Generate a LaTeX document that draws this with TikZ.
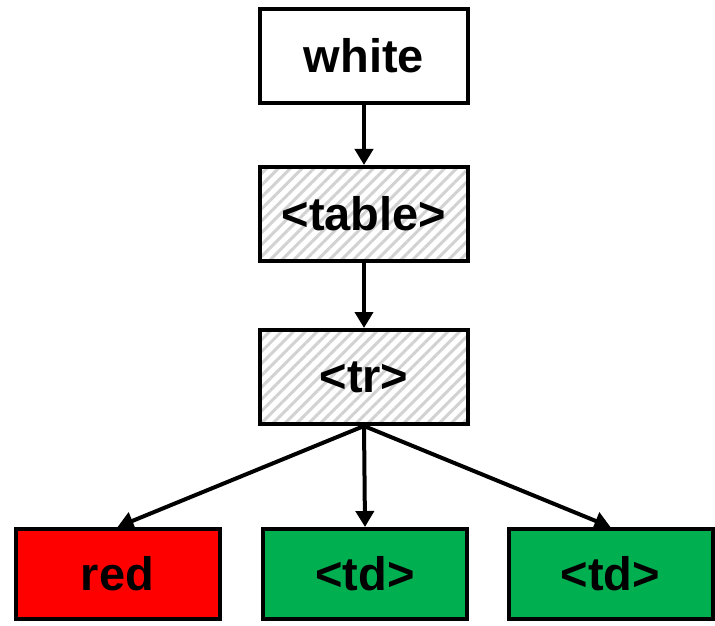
\documentclass[tikz,border=0pt]{standalone}
\usepackage{fontspec}
\setmainfont{Liberation Sans}
\usetikzlibrary{arrows.meta, patterns.meta}

\definecolor{tdgreen}{HTML}{00B050}

\begin{document}
\begin{tikzpicture}[x=0.5pt, y=-0.5pt,
	box/.style={draw, line width=2pt, minimum width=104pt, minimum height=47pt,
		font=\fontsize{23.5}{28}\selectfont\bfseries, inner sep=0pt},
	hatched/.style={box, preaction={fill=white}, preaction={pattern={Lines[angle=45, distance=4.2pt, line width=1.5pt]}, pattern color=gray!35}},
	leaf/.style={box, minimum width=102pt, minimum height=45pt},
	link/.style={line width=2pt, -{Triangle[width=9pt, length=8pt]}}]
	\useasboundingbox (0,0) rectangle (715,625);
	% chain from the root down to the row
	\node[box] (root) at (364,56) {white};
	\node[hatched] (table) at (364,214) {<table>};
	\node[hatched] (tr) at (364,377) {<tr>};
	% the cells
	\node[leaf, fill=red] (c0) at (117.5,574) {red};
	\node[leaf, fill=tdgreen] (c1) at (365,574) {<td>};
	\node[leaf, fill=tdgreen] (c2) at (610.5,574) {<td>};
	\draw[link] (root) -- (table);
	\draw[link] (table) -- (tr);
	\foreach \i in {0,1,2} {
		\draw[link] (tr.south) -- (c\i.north);
	}
\end{tikzpicture}
\end{document}
